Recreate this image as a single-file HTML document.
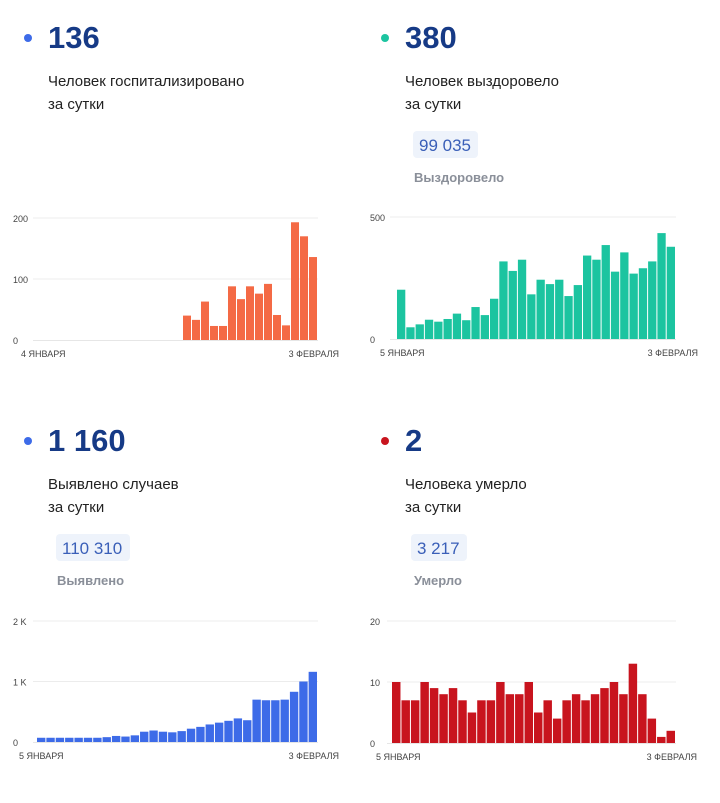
<!DOCTYPE html>
<html><head><meta charset="utf-8">
<style>
body{margin:0;background:#fff;width:720px;height:798px;overflow:hidden;font-family:"Liberation Sans",sans-serif}
svg text{font-family:"Liberation Sans",sans-serif}
</style></head><body>
<svg id="s" width="720" height="798" xmlns="http://www.w3.org/2000/svg">
<g id="txt">
<circle cx="28" cy="38" r="4" fill="#3d6be8"/>
<text x="48" y="48" font-size="31" font-weight="bold" fill="#163a86">136</text>
<text x="48" y="86" font-size="15" fill="#222">Человек госпитализировано</text>
<text x="48" y="109" font-size="15" fill="#222">за сутки</text>

<circle cx="385" cy="38" r="4" fill="#1cc4a0"/>
<text x="405" y="48" font-size="31" font-weight="bold" fill="#163a86">380</text>
<text x="405" y="86" font-size="15" fill="#222">Человек выздоровело</text>
<text x="405" y="109" font-size="15" fill="#222">за сутки</text>
<rect x="413" y="131" width="65" height="27" rx="4" fill="#eef3fb"/>
<text x="419" y="151" font-size="17" fill="#3a5fb8">99 035</text>
<text x="414" y="182" font-size="13" font-weight="bold" fill="#8a8f99">Выздоровело</text>

<circle cx="28" cy="441" r="4" fill="#3d6be8"/>
<text x="48" y="451" font-size="31" font-weight="bold" fill="#163a86">1 160</text>
<text x="48" y="489" font-size="15" fill="#222">Выявлено случаев</text>
<text x="48" y="512" font-size="15" fill="#222">за сутки</text>
<rect x="56" y="534" width="74" height="27" rx="4" fill="#eef3fb"/>
<text x="62" y="554" font-size="17" fill="#3a5fb8">110 310</text>
<text x="57" y="585" font-size="13" font-weight="bold" fill="#8a8f99">Выявлено</text>

<circle cx="385" cy="441" r="4" fill="#c8141e"/>
<text x="405" y="451" font-size="31" font-weight="bold" fill="#163a86">2</text>
<text x="405" y="489" font-size="15" fill="#222">Человека умерло</text>
<text x="405" y="512" font-size="15" fill="#222">за сутки</text>
<rect x="411" y="534" width="56" height="27" rx="4" fill="#eef3fb"/>
<text x="417" y="554" font-size="17" fill="#3a5fb8">3 217</text>
<text x="414" y="585" font-size="13" font-weight="bold" fill="#8a8f99">Умерло</text>
</g>
</svg>
<script>
var s=document.getElementById('s'),NS='http://www.w3.org/2000/svg';
function el(t,a,txt){var e=document.createElementNS(NS,t);for(var k in a)e.setAttribute(k,a[k]);if(txt)e.textContent=txt;s.appendChild(e);return e;}
function chart(o){
 o.grid.forEach(function(g){
  var y=o.base-g[0]*o.scale;
  if(g[0]>0)el('line',{x1:o.gx1,x2:o.gx2,y1:y,y2:y,stroke:'#ececec','stroke-width':1});
  el('text',{x:o.lx,y:y+4,'font-size':9,fill:'#444'},g[1]);
 });
 el('line',{x1:o.gx1,x2:o.gx2,y1:o.base+0.5,y2:o.base+0.5,stroke:'#e6e6e6'});
 var n=o.data.length,w=(o.x2-o.x1)/n;
 o.data.forEach(function(v,i){
  var h=v*o.scale;
  el('rect',{x:o.x1+i*w,y:o.base-h,width:w-1,height:h,fill:o.color});
 });
 el('text',{x:o.ax1,y:o.base+17,'font-size':9,fill:'#444'},o.l1);
 el('text',{x:o.ax2,y:o.base+17,'font-size':9,fill:'#444','text-anchor':'end'},o.l2);
}
chart({base:340,scale:0.61,gx1:33,gx2:318,lx:13,x1:183,x2:318,color:'#f46a45',
 grid:[[0,'0'],[100,'100'],[200,'200']],
 data:[40,33,63,23,23,88,67,88,76,92,41,24,193,170,136],ax1:21,ax2:339,l1:'4 ЯНВАРЯ',l2:'3 ФЕВРАЛЯ'});
chart({base:339,scale:0.244,gx1:390,gx2:676,lx:370,x1:397,x2:676,color:'#1cc4a0',
 grid:[[0,'0'],[500,'500']],
 data:[202,48,60,79,71,82,104,77,131,98,165,318,279,325,183,243,225,243,176,221,342,325,385,276,355,268,290,318,434,378],ax1:380,ax2:698,l1:'5 ЯНВАРЯ',l2:'3 ФЕВРАЛЯ'});
chart({base:742,scale:0.0605,gx1:33,gx2:318,lx:13,x1:37,x2:318,color:'#3d6be8',
 grid:[[0,'0'],[1000,'1 K'],[2000,'2 K']],
 data:[70,70,70,70,70,70,70,80,100,90,110,170,190,170,160,180,220,250,290,320,350,390,360,700,690,690,700,830,1000,1160],ax1:19,ax2:339,l1:'5 ЯНВАРЯ',l2:'3 ФЕВРАЛЯ'});
chart({base:743,scale:6.1,gx1:387,gx2:676,lx:370,x1:392,x2:676,color:'#c8141e',
 grid:[[0,'0'],[10,'10'],[20,'20']],
 data:[10,7,7,10,9,8,9,7,5,7,7,10,8,8,10,5,7,4,7,8,7,8,9,10,8,13,8,4,1,2],ax1:376,ax2:697,l1:'5 ЯНВАРЯ',l2:'3 ФЕВРАЛЯ'});
</script>
</body></html>
